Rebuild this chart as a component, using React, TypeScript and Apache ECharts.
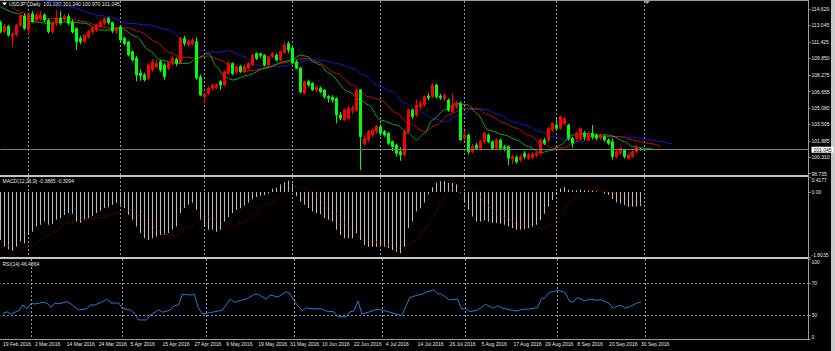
import React, { useEffect, useRef } from "react";
import * as echarts from "echarts";

// ---------- data ----------
const OPEN = [
  113.30, 112.45, 112.95, 111.95, 112.15, 113.05, 113.95, 112.65, 114.15, 113.55,
  113.65, 114.05, 113.55, 112.45, 113.25, 113.75, 113.65, 113.90, 113.35, 112.75,
  111.80, 111.47, 111.95, 112.43, 112.59, 112.90, 113.24, 113.75, 113.30, 112.50,
  112.90, 111.80, 111.45, 110.50, 109.90, 108.45, 108.25, 107.95, 108.74, 109.05,
  109.54, 109.22, 108.90, 109.38, 109.77, 109.41, 111.80, 111.15, 111.30, 111.45,
  108.06, 106.15, 106.50, 106.97, 107.05, 107.62, 107.29, 108.41, 109.38, 108.57,
  109.06, 108.57, 108.90, 109.22, 110.34, 110.30, 110.18, 109.22, 110.02, 110.18,
  109.70, 110.41, 111.31, 110.86, 109.54, 108.93, 106.49, 107.61, 107.45, 106.78,
  106.97, 106.81, 106.17, 106.10, 105.98, 104.40, 103.91, 104.08, 104.88, 104.88,
  106.81, 101.60, 101.99, 102.47, 102.79, 103.27, 102.79, 102.63, 101.83, 101.50,
  100.86, 100.54, 102.79, 104.88, 104.40, 105.20, 105.36, 106.23, 106.17, 107.29,
  106.23, 105.95, 105.84, 104.71, 105.20, 105.53, 102.15, 102.47, 100.86, 101.50,
  101.18, 101.82, 102.47, 101.82, 101.18, 101.99, 101.34, 101.34, 100.22, 100.32,
  100.06, 100.70, 100.22, 100.32, 100.54, 100.70, 101.99, 101.99, 102.95, 103.43,
  103.11, 103.55, 103.43, 102.15, 102.15, 102.15, 102.63, 101.99, 102.63, 102.47,
  102.15, 102.30, 101.99, 101.82, 100.38, 100.70, 101.02, 100.22, 100.38, 100.86,
  101.082,
];
const HIGH = [
  113.50, 113.15, 113.10, 112.35, 113.20, 114.15, 114.20, 114.30, 114.40, 114.25,
  114.45, 114.20, 113.70, 113.45, 114.50, 114.40, 114.10, 114.15, 113.60, 112.85,
  112.00, 112.20, 112.60, 112.90, 113.20, 113.50, 113.80, 113.85, 113.40, 112.90,
  112.95, 111.95, 111.55, 110.60, 110.10, 108.80, 108.45, 109.40, 109.75, 109.70,
  109.70, 109.40, 109.55, 110.05, 109.95, 111.90, 112.05, 111.70, 111.85, 111.90,
  108.30, 106.60, 107.15, 107.40, 107.50, 107.75, 108.70, 109.55, 109.45, 109.15,
  109.25, 109.20, 109.50, 110.30, 110.45, 110.40, 110.25, 110.10, 110.45, 110.35,
  110.60, 111.47, 111.50, 110.95, 109.70, 109.05, 107.70, 107.80, 107.55, 107.20,
  107.15, 106.90, 106.30, 106.30, 106.10, 104.70, 105.00, 105.30, 105.30, 106.95,
  106.90, 102.50, 102.95, 103.10, 103.45, 103.50, 102.95, 102.75, 101.95, 101.65,
  101.30, 102.95, 105.05, 105.00, 105.90, 105.80, 106.30, 106.50, 107.45, 107.40,
  106.45, 106.50, 106.00, 106.45, 105.75, 105.70, 102.85, 102.60, 101.60, 101.70,
  102.00, 102.80, 102.60, 101.95, 102.20, 102.10, 101.50, 101.45, 100.60, 100.50,
  100.60, 100.90, 100.75, 100.80, 100.90, 102.10, 102.20, 103.25, 103.65, 104.08,
  104.30, 104.20, 103.55, 102.30, 102.80, 103.20, 102.85, 102.80, 103.43, 102.60,
  102.60, 102.45, 102.15, 102.10, 101.00, 101.30, 101.10, 100.65, 101.00, 101.50,
  101.240,
];
const LOW = [
  112.30, 112.30, 111.95, 110.95, 111.95, 112.90, 112.60, 112.10, 113.30, 113.40,
  113.45, 113.35, 112.25, 112.20, 112.95, 113.05, 113.45, 113.05, 112.25, 110.67,
  111.20, 111.30, 111.75, 112.20, 112.40, 112.80, 113.10, 113.10, 112.30, 112.20,
  111.40, 111.10, 110.05, 109.55, 107.65, 107.70, 107.62, 107.80, 108.60, 108.90,
  108.55, 107.80, 108.70, 109.20, 109.10, 109.30, 111.05, 110.95, 111.10, 107.80,
  106.20, 105.52, 106.30, 106.75, 106.90, 106.80, 107.10, 108.30, 108.25, 108.40,
  108.45, 108.45, 108.75, 109.10, 109.70, 109.90, 109.10, 109.10, 109.90, 109.55,
  109.60, 110.30, 110.40, 109.30, 108.80, 106.50, 106.40, 107.10, 106.70, 106.60,
  106.50, 105.95, 105.60, 105.60, 103.60, 103.90, 103.80, 103.95, 104.50, 104.70,
  99.09, 101.45, 101.80, 102.30, 102.60, 102.40, 102.30, 101.50, 100.90, 100.40,
  99.98, 100.40, 102.60, 104.00, 104.20, 104.90, 105.20, 105.80, 106.00, 106.00,
  105.85, 105.75, 104.70, 104.60, 105.00, 101.90, 101.90, 100.60, 100.70, 101.00,
  101.00, 101.60, 101.70, 101.00, 101.05, 101.05, 100.90, 99.55, 99.70, 99.70,
  99.85, 100.15, 100.05, 100.15, 100.30, 100.50, 101.50, 101.80, 102.80, 102.90,
  102.95, 103.40, 101.95, 101.25, 101.95, 102.00, 101.95, 101.85, 102.05, 101.95,
  101.95, 101.80, 101.50, 100.10, 100.20, 100.55, 100.20, 100.10, 100.25, 100.70,
  100.970,
];
const CLOSE = [
  112.45, 112.95, 112.10, 112.20, 113.05, 113.95, 112.75, 114.15, 113.40, 114.05,
  114.05, 113.55, 112.45, 113.30, 113.70, 113.25, 113.90, 113.25, 112.40, 111.47,
  111.47, 112.11, 112.43, 112.76, 113.08, 113.40, 113.72, 113.30, 112.50, 112.75,
  111.63, 111.30, 110.20, 109.70, 108.25, 108.20, 107.80, 109.20, 109.54, 109.38,
  108.74, 108.09, 109.38, 109.86, 109.38, 111.82, 111.31, 111.47, 111.63, 107.97,
  106.33, 106.40, 106.97, 107.29, 107.30, 107.29, 108.57, 109.38, 108.41, 109.06,
  108.57, 109.06, 109.38, 110.18, 109.86, 110.15, 109.22, 110.02, 110.34, 109.70,
  110.50, 111.15, 110.67, 109.41, 108.90, 106.62, 107.61, 107.29, 106.81, 107.07,
  106.65, 106.17, 106.00, 105.84, 104.40, 104.08, 104.88, 105.04, 105.04, 106.81,
  102.30, 102.15, 102.79, 102.95, 103.33, 102.63, 102.47, 101.67, 101.34, 100.70,
  100.55, 102.79, 104.88, 104.24, 105.36, 105.52, 106.17, 106.05, 107.29, 106.16,
  106.05, 106.30, 104.88, 105.36, 105.53, 101.99, 102.47, 100.86, 101.34, 101.18,
  101.82, 102.63, 101.82, 101.18, 101.99, 101.18, 101.18, 100.22, 100.38, 99.89,
  100.38, 100.38, 100.54, 100.63, 100.70, 101.99, 101.67, 103.11, 103.60, 103.11,
  104.23, 104.08, 102.15, 101.67, 102.63, 103.11, 102.30, 102.63, 102.30, 102.15,
  102.47, 101.99, 101.67, 100.38, 100.86, 101.18, 100.38, 100.54, 100.86, 101.34,
  101.045,
];

// Alligator lines, [bar index, price]
const JAW: [number, number][] = [
  [5, 116.2], [10, 115.49], [17, 114.84], [25, 113.99], [27, 113.88], [32, 113.24], [37, 113.08],
  [42, 112.59], [46, 111.63], [50, 110.67], [52, 110.47], [55, 110.47], [57, 110.6],
  [61, 110.02], [64, 109.22], [67, 109.06], [71, 109.12], [74, 109.38], [77, 109.7],
  [80, 109.7], [84, 109.38], [88, 108.9], [91, 108.25], [94, 107.29], [98, 106.64],
  [101, 105.55], [104, 104.88], [108, 104.11], [111, 103.75], [115, 104.4], [118, 104.95],
  [121, 104.95], [125, 104.4], [128, 103.75], [131, 103.43], [135, 102.79], [138, 102.3],
  [142, 101.99], [145, 101.82], [148, 102.3], [152, 102.3], [155, 102.3], [158, 102.23],
  [162, 102.05], [165, 101.82], [168, 101.6],
];
const TEETH: [number, number][] = [
  [3, 114.75], [5, 114.33], [8, 113.85], [12, 113.72], [17, 113.72], [21, 113.4], [25, 112.91],
  [27, 112.79], [32, 112.79], [35, 112.4], [39, 111.44], [42, 110.47], [45, 109.99],
  [49, 109.89], [52, 110.1], [55, 109.7], [58, 109.0], [61, 108.6], [64, 108.74],
  [67, 109.06], [71, 109.44], [74, 109.77], [77, 109.86], [79, 109.54], [84, 108.42],
  [88, 107.29], [92, 106.16], [95, 105.84], [99, 104.59], [102, 103.62], [106, 102.79],
  [109, 103.43], [112, 104.4], [116, 105.04], [119, 105.04], [122, 104.4], [126, 103.62],
  [129, 103.11], [132, 102.47], [135, 101.75], [138, 101.2], [141, 101.25], [143, 101.6],
  [145, 102.05], [147, 102.3], [152, 102.3], [155, 102.3], [158, 101.99], [162, 101.67],
  [165, 101.41],
];
const LIPS: [number, number][] = [
  [0, 114.84], [4, 114.21], [8, 113.4], [12, 113.24], [17, 113.4], [21, 113.24], [25, 112.59],
  [27, 112.59], [30, 112.76], [34, 111.95], [37, 110.67], [40, 109.7], [44, 109.38],
  [47, 109.38], [49, 109.86], [52, 110.35], [54, 109.06], [56, 108.09], [58, 107.77],
  [62, 108.25], [66, 108.9], [71, 109.54], [73, 109.76], [75, 110.18], [77, 110.02],
  [78, 109.54], [80, 109.22], [82, 108.45], [87, 106.64], [90, 105.84], [92, 105.36],
  [95, 103.91], [99, 103.43], [102, 102.63], [104, 101.99], [106, 102.63], [108, 103.91],
  [111, 104.88], [114, 105.52], [117, 105.36], [119, 104.56], [122, 102.95], [126, 102.47],
  [129, 101.99], [132, 101.34], [135, 100.76], [138, 101.02], [140, 101.5], [143, 102.47],
  [146, 102.63], [149, 102.47], [152, 102.47], [153, 102.37], [156, 101.82], [158, 101.34],
  [161, 101.18], [163, 101.18],
];

const MACD_MAIN = [
  -1.33, -1.52, -1.59, -1.63, -1.52, -1.38, -1.42, -1.19, -1.10, -0.96,
  -0.91, -0.82, -0.91, -0.88, -0.77, -0.72, -0.64, -0.58, -0.60, -0.82,
  -0.85, -0.77, -0.72, -0.66, -0.58, -0.52, -0.44, -0.42, -0.35, -0.30,
  -0.35, -0.44, -0.63, -0.77, -0.96, -1.14, -1.28, -1.33, -1.28, -1.24,
  -1.19, -1.19, -1.14, -1.05, -0.96, -0.58, -0.44, -0.35, -0.30, -0.49,
  -0.77, -0.96, -1.05, -1.05, -1.10, -1.05, -0.82, -0.69, -0.58, -0.50,
  -0.45, -0.38, -0.30, -0.20, -0.14, -0.10, -0.08, -0.04, 0.09, 0.12,
  0.21, 0.27, 0.32, 0.23, -0.12, -0.26, -0.35, -0.44, -0.54, -0.58,
  -0.62, -0.72, -0.77, -0.82, -1.05, -1.19, -1.28, -1.28, -1.28, -1.14,
  -1.33, -1.47, -1.52, -1.52, -1.52, -1.47, -1.52, -1.56, -1.61, -1.66,
  -1.70, -1.52, -1.00, -0.82, -0.54, -0.45, -0.29, -0.07, 0.13, 0.25,
  0.30, 0.31, 0.25, 0.25, 0.21, -0.02, -0.30, -0.49, -0.68, -0.82,
  -0.82, -0.78, -0.82, -0.86, -0.86, -0.88, -0.91, -0.96, -1.00, -1.05,
  -1.05, -1.03, -1.00, -0.96, -0.91, -0.78, -0.60, -0.41, -0.22, -0.08,
  0.10, 0.13, 0.07, 0.05, 0.05, 0.07, 0.05, 0.04, 0.04, 0.02,
  0.00, -0.04, -0.08, -0.19, -0.28, -0.32, -0.36, -0.41, -0.41, -0.40,
  -0.3865,
];
const MACD_SIGNAL: [number, number][] = [
  [0, -1.33], [4, -1.56], [8, -1.47], [12, -1.19], [17, -0.86], [21, -0.74], [25, -0.71],
  [29, -0.58], [32, -0.5], [35, -0.66], [38, -1.0], [42, -1.19], [44, -1.22], [47, -0.98],
  [50, -0.72], [52, -0.68], [55, -0.8], [58, -0.95], [61, -0.82], [64, -0.58], [67, -0.3],
  [71, -0.04], [73, 0.15], [76, 0.1], [79, -0.12], [82, -0.44], [84, -0.63], [87, -0.95],
  [90, -1.25], [93, -1.38], [97, -1.47], [99, -1.56], [101, -1.52], [104, -1.35],
  [106, -1.05], [108, -0.72], [110, -0.3], [112, 0.0], [114, 0.18], [117, 0.14], [119, 0.0],
  [121, -0.3], [124, -0.6], [127, -0.78], [130, -0.9], [133, -0.98], [136, -1.0],
  [138, -0.92], [140, -0.68], [142, -0.3], [145, -0.08], [147, 0.05], [150, 0.05],
  [152, 0.0], [155, -0.08], [157, -0.17], [160, -0.3094],
];
const RSI: [number, number][] = [
  [0, 32], [1, 34], [2, 31], [4, 36], [5, 42.5], [6, 37.5], [7, 44.6], [8, 43.8], [10, 45.8],
  [11, 45], [12, 39.6], [13, 45], [14, 44], [16, 46.7], [17, 44], [19, 36.3], [21, 38],
  [22, 42.5], [23, 42.5], [25, 46.7], [26, 50], [27, 45], [29, 45], [30, 38.3], [32, 36],
  [33, 32], [34, 23.8], [36, 23.8], [37, 30], [39, 36.3], [40, 33.5], [42, 36.3], [43, 41.7],
  [44, 42.5], [45, 55.8], [47, 55], [48, 55.5], [49, 39], [50, 31.3], [52, 33], [53, 34],
  [55, 36], [57, 50], [58, 45.8], [59, 47.5], [61, 50], [63, 55.8], [64, 55.8], [66, 50],
  [67, 55], [69, 52.5], [71, 59.2], [72, 56.5], [73, 47.5], [75, 35], [76, 39], [77, 38],
  [80, 37.5], [81, 35], [83, 34], [84, 27.9], [86, 27.5], [87, 34], [88, 35], [89, 47.5],
  [90, 31.3], [92, 34], [94, 37.5], [96, 35], [98, 32], [100, 29.2], [102, 51.7], [104, 55],
  [105, 55.8], [106, 58.3], [108, 61.3], [109, 56.5], [110, 56], [112, 48.8], [114, 50],
  [115, 37.5], [116, 38], [117, 34.2], [119, 36], [121, 43.3], [123, 38.5], [124, 41.5],
  [125, 39], [127, 36.5], [129, 35], [130, 37], [132, 37.5], [134, 39], [135, 50], [136, 52],
  [137, 58.3], [138, 59], [139, 61.3], [141, 58], [142, 47.5], [143, 46], [144, 51.7],
  [146, 47.5], [147, 50], [149, 48.5], [150, 49], [151, 47], [152, 44.5], [153, 38.3],
  [154, 41], [155, 42], [156, 38.5], [157, 40], [158, 42.5], [159, 45], [160, 46.44],
];

const PRICE_TICKS = [98.735, 100.31, 101.885, 103.505, 105.08, 106.655, 108.275, 109.85, 111.425, 113.045, 114.62];
const MACD_TICKS = [-1.8035, 0, 0.4177];
const RSI_TICKS = [0, 30, 70, 100];
const RSI_LEVELS = [70, 30];
const DATE_LABELS = [
  "19 Feb 2016", "2 Mar 2016", "14 Mar 2016", "24 Mar 2016", "5 Apr 2016", "15 Apr 2016",
  "27 Apr 2016", "9 May 2016", "19 May 2016", "31 May 2016", "10 Jun 2016", "22 Jun 2016",
  "4 Jul 2016", "14 Jul 2016", "26 Jul 2016", "5 Aug 2016", "17 Aug 2016", "29 Aug 2016",
  "8 Sep 2016", "20 Sep 2016", "30 Sep 2016",
];
const DATE_STEP = 8;
const MONTH_START_BARS = [7, 30, 51, 73, 95, 116, 139, 161];
const LAST_PRICE = 101.045;
const HEADER = "USDJPY,Daily  101.082 101.240 100.970 101.045";
const MACD_TITLE = "MACD(12,26,9) -0.3865 -0.3094";
const RSI_TITLE = "RSI(14) 46.4364";
const SLOT_COUNT = 203;

// ---------- layout / style ----------
const FONT = "'Liberation Sans', Arial, sans-serif";
const FS = 5;
const GREY = "#9a9a9a";
const LABEL = "#e6e6e6";
const PLOT_W = 808;
const MAIN_RANGE = [98.61, 115.39];

function buildOption() {
  const slots = Array.from({ length: SLOT_COUNT }, (_, i) => String(i));
  const grids = [
    { left: 0.5, top: 1, width: PLOT_W, height: 174 },
    { left: 0.5, top: 177, width: PLOT_W, height: 80 },
    { left: 0.5, top: 259, width: PLOT_W, height: 80 },
  ];
  const xAxis = [0, 1, 2].map((i) => ({
    type: "category",
    gridIndex: i,
    data: slots,
    boundaryGap: false,
    axisLine: { show: false },
    axisTick: { show: false },
    axisLabel:
      i === 2
        ? {
            show: true,
            interval: (idx: number) => idx % DATE_STEP === 0 && idx / DATE_STEP < DATE_LABELS.length,
            formatter: (_v: string, idx: number) => DATE_LABELS[idx / DATE_STEP] || "",
            align: "left",
            verticalAlign: "top",
            margin: 2,
            color: LABEL,
            fontSize: FS,
            fontFamily: FONT,
          }
        : { show: false },
    splitLine: {
      show: true,
      interval: (idx: number) => MONTH_START_BARS.includes(idx),
      lineStyle: { color: GREY, type: [2, 2], width: 1 },
    },
  }));
  const yCommon = {
    type: "value",
    position: "right",
    splitLine: { show: false },
    axisLine: { show: true, lineStyle: { color: GREY } },
  };
  const yAxis = [
    {
      ...yCommon,
      gridIndex: 0,
      min: MAIN_RANGE[0],
      max: MAIN_RANGE[1],
      axisTick: { show: true, length: 2, customValues: PRICE_TICKS, lineStyle: { color: GREY } },
      axisLabel: {
        customValues: PRICE_TICKS,
        formatter: (v: number) => v.toFixed(3),
        color: LABEL, fontSize: FS, fontFamily: FONT, margin: 3,
      },
    },
    {
      ...yCommon,
      gridIndex: 1,
      min: MACD_TICKS[0],
      max: MACD_TICKS[2],
      axisTick: { show: true, length: 2, customValues: MACD_TICKS, lineStyle: { color: GREY } },
      axisLabel: {
        customValues: MACD_TICKS,
        formatter: (v: number) => (v === 0 ? "0.00" : v.toFixed(4)),
        color: LABEL, fontSize: FS, fontFamily: FONT, margin: 3,
        verticalAlignMinLabel: "bottom", verticalAlignMaxLabel: "top",
      },
    },
    {
      ...yCommon,
      gridIndex: 2,
      min: 0,
      max: 100,
      axisTick: { show: true, length: 2, customValues: RSI_TICKS, lineStyle: { color: GREY } },
      axisLabel: {
        customValues: RSI_TICKS,
        formatter: (v: number) => String(v),
        color: LABEL, fontSize: FS, fontFamily: FONT, margin: 3,
        verticalAlignMinLabel: "bottom", verticalAlignMaxLabel: "top",
      },
    },
  ];

  const candles = OPEN.map((o, i) => [o, CLOSE[i], LOW[i], HIGH[i]]);
  const maLine = (name: string, data: [number, number][], color: string) => ({
    name, type: "line", xAxisIndex: 0, yAxisIndex: 0, data,
    showSymbol: false, smooth: 0.3, smoothMonotone: "x",
    lineStyle: { color, width: 1 }, z: 3, silent: true,
  });

  const series: any[] = [
    {
      type: "candlestick",
      xAxisIndex: 0, yAxisIndex: 0,
      data: candles,
      barWidth: 2,
      itemStyle: { color: "#ff0000", color0: "#00ff00", borderColor: "#ff0000", borderColor0: "#00ff00", borderWidth: 1 },
      z: 4,
      markLine: {
        silent: true, symbol: ["none", "none"],
        lineStyle: { color: "#7c7c7c", type: "solid", width: 1 },
        label: {
          show: true, position: "end", distance: 3,
          formatter: LAST_PRICE.toFixed(3),
          backgroundColor: "#ffffff", color: "#000000", fontSize: FS, fontFamily: FONT, padding: [1, 2, 0, 2],
        },
        data: [{ yAxis: LAST_PRICE }],
      },
    },
    maLine("jaw", JAW, "#1818d8"),
    maLine("teeth", TEETH, "#c81010"),
    maLine("lips", LIPS, "#10b010"),
    {
      type: "bar", xAxisIndex: 1, yAxisIndex: 1, data: MACD_MAIN,
      barWidth: 1, itemStyle: { color: "#bdbdbd" }, silent: true,
    },
    {
      type: "line", xAxisIndex: 1, yAxisIndex: 1, data: MACD_SIGNAL,
      showSymbol: false, smooth: 0.3, smoothMonotone: "x",
      lineStyle: { color: "#c00000", width: 1, type: [1, 2] }, silent: true,
    },
    {
      type: "line", xAxisIndex: 2, yAxisIndex: 2, data: RSI,
      showSymbol: false, lineStyle: { color: "#1e7fe0", width: 1 }, silent: true,
      markLine: {
        silent: true, symbol: ["none", "none"], label: { show: false },
        lineStyle: { color: GREY, type: [2, 2], width: 1 },
        data: RSI_LEVELS.map((v) => ({ yAxis: v })),
      },
    },
  ];

  const txt = (x: number, y: number, text: string) => ({
    type: "text", x, y, silent: true,
    style: { text, fill: LABEL, fontSize: FS, fontFamily: FONT, verticalAlign: "top" },
  });

  const graphic = [
    { type: "line", silent: true, shape: { x1: 0, y1: 0.5, x2: 809, y2: 0.5 }, style: { stroke: GREY, lineWidth: 1 } },
    { type: "rect", silent: true, shape: { x: 0, y: 175, width: 809, height: 2 }, style: { fill: "#c4c4c4" } },
    { type: "rect", silent: true, shape: { x: 0, y: 257, width: 809, height: 2 }, style: { fill: "#c4c4c4" } },
    { type: "line", silent: true, shape: { x1: 0, y1: 339.5, x2: 809, y2: 339.5 }, style: { stroke: GREY, lineWidth: 1 } },
    { type: "line", silent: true, shape: { x1: 808.5, y1: 0, x2: 808.5, y2: 340 }, style: { stroke: GREY, lineWidth: 1 } },
    { type: "rect", silent: true, shape: { x: 831, y: 0, width: 4, height: 351 }, style: { fill: "#c8c8cc" } },
    { type: "polygon", silent: true, shape: { points: [[2, 2.5], [7, 2.5], [4.5, 5.5]] }, style: { fill: "#ffffff" } },
    { type: "polygon", silent: true, shape: { points: [[644, 1], [650, 1], [647, 4]] }, style: { fill: GREY } },
    txt(9, 1.5, HEADER),
    txt(2.5, 178.5, MACD_TITLE),
    txt(2.5, 261, RSI_TITLE),
  ];

  return {
    animation: false,
    backgroundColor: "#000000",
    textStyle: { fontFamily: FONT },
    grid: grids,
    xAxis,
    yAxis,
    series,
    graphic,
  };
}

export default function App() {
  const ref = useRef<HTMLDivElement>(null);
  useEffect(() => {
    if (!ref.current) return;
    const chart = echarts.init(ref.current, null, { renderer: "svg" });
    chart.setOption(buildOption() as any);
    return () => chart.dispose();
  }, []);
  return (
    <div
      ref={ref}
      style={{ position: "fixed", left: 0, top: 0, width: 835, height: 351, background: "#000" }}
    />
  );
}
